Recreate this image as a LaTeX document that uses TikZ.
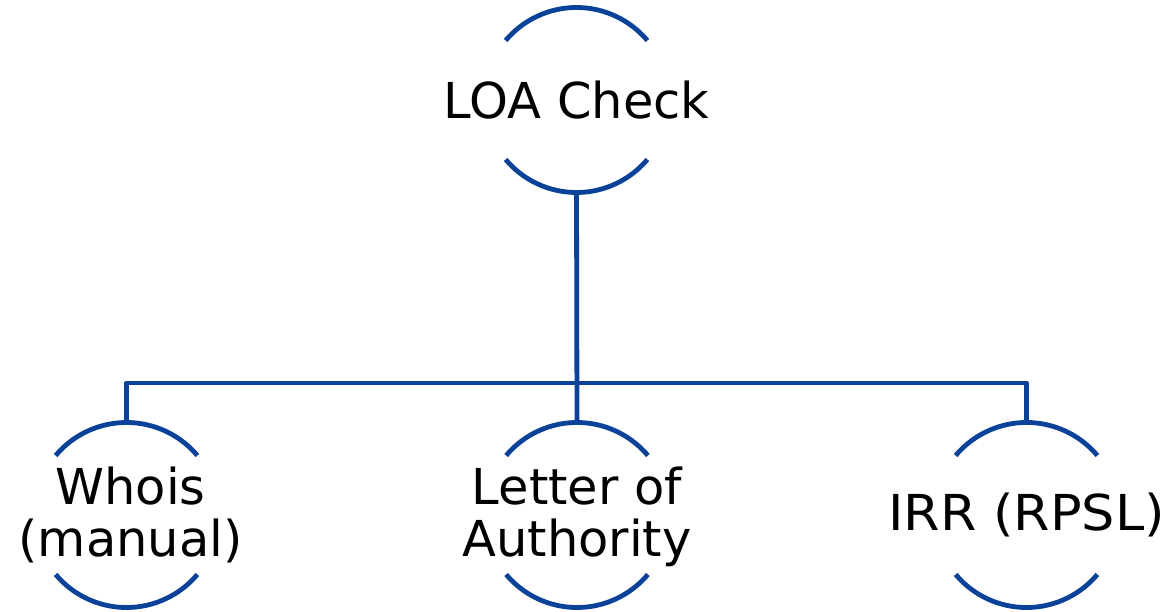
\documentclass[tikz,border=0pt]{standalone}
\usepackage{fontspec}
\setmainfont{DejaVu Sans}
\definecolor{treeblue}{HTML}{0A4299}
\begin{document}
\begin{tikzpicture}[x=1pt,y=1pt,
  ring/.style={circle,draw=none,minimum size=185pt,inner sep=0pt},
  label/.style={font=\fontsize{49.5}{52.4}\selectfont,align=center,text=black,inner sep=0pt},
  arcline/.style={draw=treeblue,line width=4.8pt},
  link/.style={draw=treeblue,line width=4.8pt,line join=round}]
  \useasboundingbox (0,0) rectangle (1172,611);
  % circle frames of the four items
  \node[ring] (loa)    at (576.5,511) {};
  \node[ring] (whois)  at (126.5,96) {};
  \node[ring] (letter) at (577,96) {};
  \node[ring] (irr)    at (1026.5,96) {};
  % open arcs above and below each text
  \foreach \n in {loa,whois,letter,irr}{
    \draw[arcline] ([shift={(40:92.5)}]\n.center) arc (40:140:92.5);
    \draw[arcline] ([shift={(220:92.5)}]\n.center) arc (220:320:92.5);
  }
  % texts (base anchor sits on the last line's baseline)
  \node[label,anchor=base] (t0) at (576.5,492.7) {LOA Check};
  \node[label,anchor=base] (t1) at (130.5,54.3) {Whois\\(manual)};
  \node[label,anchor=base] (t2) at (577,54.3) {Letter of\\Authority};
  \node[label,anchor=base] (t3) at (1026.5,81) {\scalebox{1.06}[1]{IRR (RPSL)}};
  % tree connectors
  \coordinate (bus) at (576.5,228);
  \draw[link] (loa.south) -- (letter.north);
  \draw[link] (whois.north) |- (bus) -| (irr.north);
\end{tikzpicture}
\end{document}
